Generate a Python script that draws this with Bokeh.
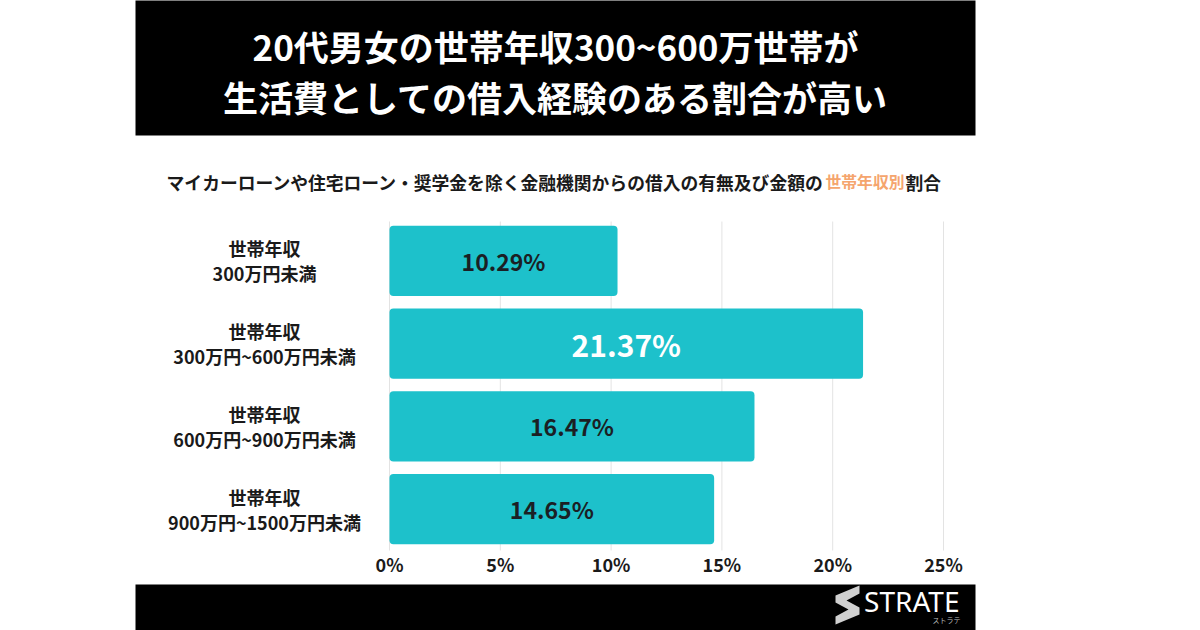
from bokeh.plotting import figure
from bokeh.models import Range1d, ColumnDataSource
from bokeh.core.properties import value
from bokeh.embed import file_html
from bokeh.resources import INLINE

# ---- data ----
cat_line1 = ["世帯年収", "世帯年収", "世帯年収", "世帯年収"]
cat_line2 = ["300万円未満", "300万円~600万円未満", "600万円~900万円未満", "900万円~1500万円未満"]
values = [10.29, 21.37, 16.47, 14.65]
value_labels = ["10.29%", "21.37%", "16.47%", "14.65%"]
x_ticks = [0, 5, 10, 15, 20, 25]
tick_labels = ["0%", "5%", "10%", "15%", "20%", "25%"]
title_lines = ["20代男女の世帯年収300~600万世帯が", "生活費としての借入経験のある割合が高い"]
subtitle_parts = ["マイカーローンや住宅ローン・奨学金を除く金融機関からの借入の有無及び金額の", "世帯年収別", "割合"]

FONT = value("Noto Sans CJK JP")
BAR = "#1DC1CB"
W, H = 1200, 630

# plot-area geometry (pixels) -> data conversion
PX0, PX1 = 389, 943       # x = 0 .. 25
PY0, PY1 = 219, 550       # top / bottom of category bands
n = len(values)
xs = (PX1 - PX0) / 25.0
band = (PY1 - PY0) / n
def X(px): return (px - PX0) / xs
def Y(py): return n + 0.5 - (py - PY0) / band

ypos = [n - i for i in range(n)]

p = figure(width=W, height=H, min_border=0,
           x_range=Range1d(X(0), X(W)), y_range=Range1d(Y(H), Y(0)),
           x_axis_location=None, y_axis_location=None,
           output_backend="svg", toolbar_location=None,
           background_fill_color="white", border_fill_color="white")
p.outline_line_color = None
p.grid.visible = False

# header / footer bands
p.quad(left=[X(135)], right=[X(975)], top=[Y(-5)], bottom=[Y(135)],
       fill_color="black", line_color=None)
p.quad(left=[X(135)], right=[X(975)], top=[Y(584)], bottom=[Y(640)],
       fill_color="black", line_color=None)

# vertical gridlines at ticks
p.segment(x0=x_ticks, x1=x_ticks, y0=[Y(PY0 + 2)] * len(x_ticks), y1=[Y(PY1)] * len(x_ticks),
          line_color="#e3e3e3", line_width=1)

src = ColumnDataSource(dict(y=ypos, val=values, mid=[v / 2 for v in values],
                            lab=value_labels,
                            col=["#1b1f24", "#ffffff", "#1b1f24", "#1b1f24"],
                            fs=["23px", "30px", "23px", "23px"]))
p.hbar(y="y", right="val", left=0, height=0.85, source=src,
       fill_color=BAR, line_color=None, border_radius=4)
p.text(x="mid", y="y", text="lab", source=src, text_color="col",
       text_font_size="fs", text_font=FONT, text_font_style="bold",
       text_align="center", text_baseline="middle")

# x tick labels
p.text(x=x_ticks, y=[Y(563)] * len(x_ticks), text=tick_labels,
       text_font=FONT, text_font_size="18px", text_font_style="bold",
       text_color="#1a1a1a", text_align="center", text_baseline="middle")

# category labels (two centred lines)
off = 12.5 / band
p.text(x=[X(264)] * n, y=[y + off for y in ypos], text=cat_line1,
       text_font=FONT, text_font_size="18px", text_font_style="bold",
       text_color="#1a1a1a", text_align="center", text_baseline="middle")
p.text(x=[X(264)] * n, y=[y - off for y in ypos], text=cat_line2,
       text_font=FONT, text_font_size="18px", text_font_style="bold",
       text_color="#1a1a1a", text_align="center", text_baseline="middle")

# title
p.text(x=[X(555)] * 2, y=[Y(45), Y(96)], text=title_lines,
       text_font=FONT, text_font_size="35px", text_font_style="bold",
       text_color="white", text_align="center", text_baseline="middle")

# subtitle with highlighted part
S, fs, fso = 824, 17.8, 15.8
p.text(x=[X(S)], y=[Y(181)], text=[subtitle_parts[0]], text_font=FONT, text_font_size=f"{fs}px",
       text_font_style="bold", text_color="#1a1a1a", text_align="right", text_baseline="middle")
p.text(x=[X(S + 1)], y=[Y(181)], text=[subtitle_parts[1]], text_font=FONT, text_font_size=f"{fso}px",
       text_font_style="bold", text_color="#F5A56E", text_align="left", text_baseline="middle")
p.text(x=[X(S + 2 + 5 * fso)], y=[Y(181)], text=[subtitle_parts[2]], text_font=FONT,
       text_font_size=f"{fs}px", text_font_style="bold", text_color="#1a1a1a",
       text_align="left", text_baseline="middle")

# footer brand
p.text(x=[X(959)], y=[Y(600)], text=["STRATE"], text_font=value("Noto Sans"),
       text_font_size="28px", text_color="white", text_align="right", text_baseline="middle")
p.text(x=[X(960)], y=[Y(619)], text=["ストラテ"], text_font=FONT,
       text_font_size="7px", text_color="#bbbbbb", text_align="right", text_baseline="middle")
p.patch(x=[X(v) for v in [859, 859, 846, 859, 859, 835, 835, 848, 835, 835]],
        y=[Y(v) for v in [585, 593, 600, 607, 614, 624, 616, 609, 602, 595]],
        fill_color="#d0d0d0", line_color=None)

open("out.html", "w").write(file_html(p, INLINE))
